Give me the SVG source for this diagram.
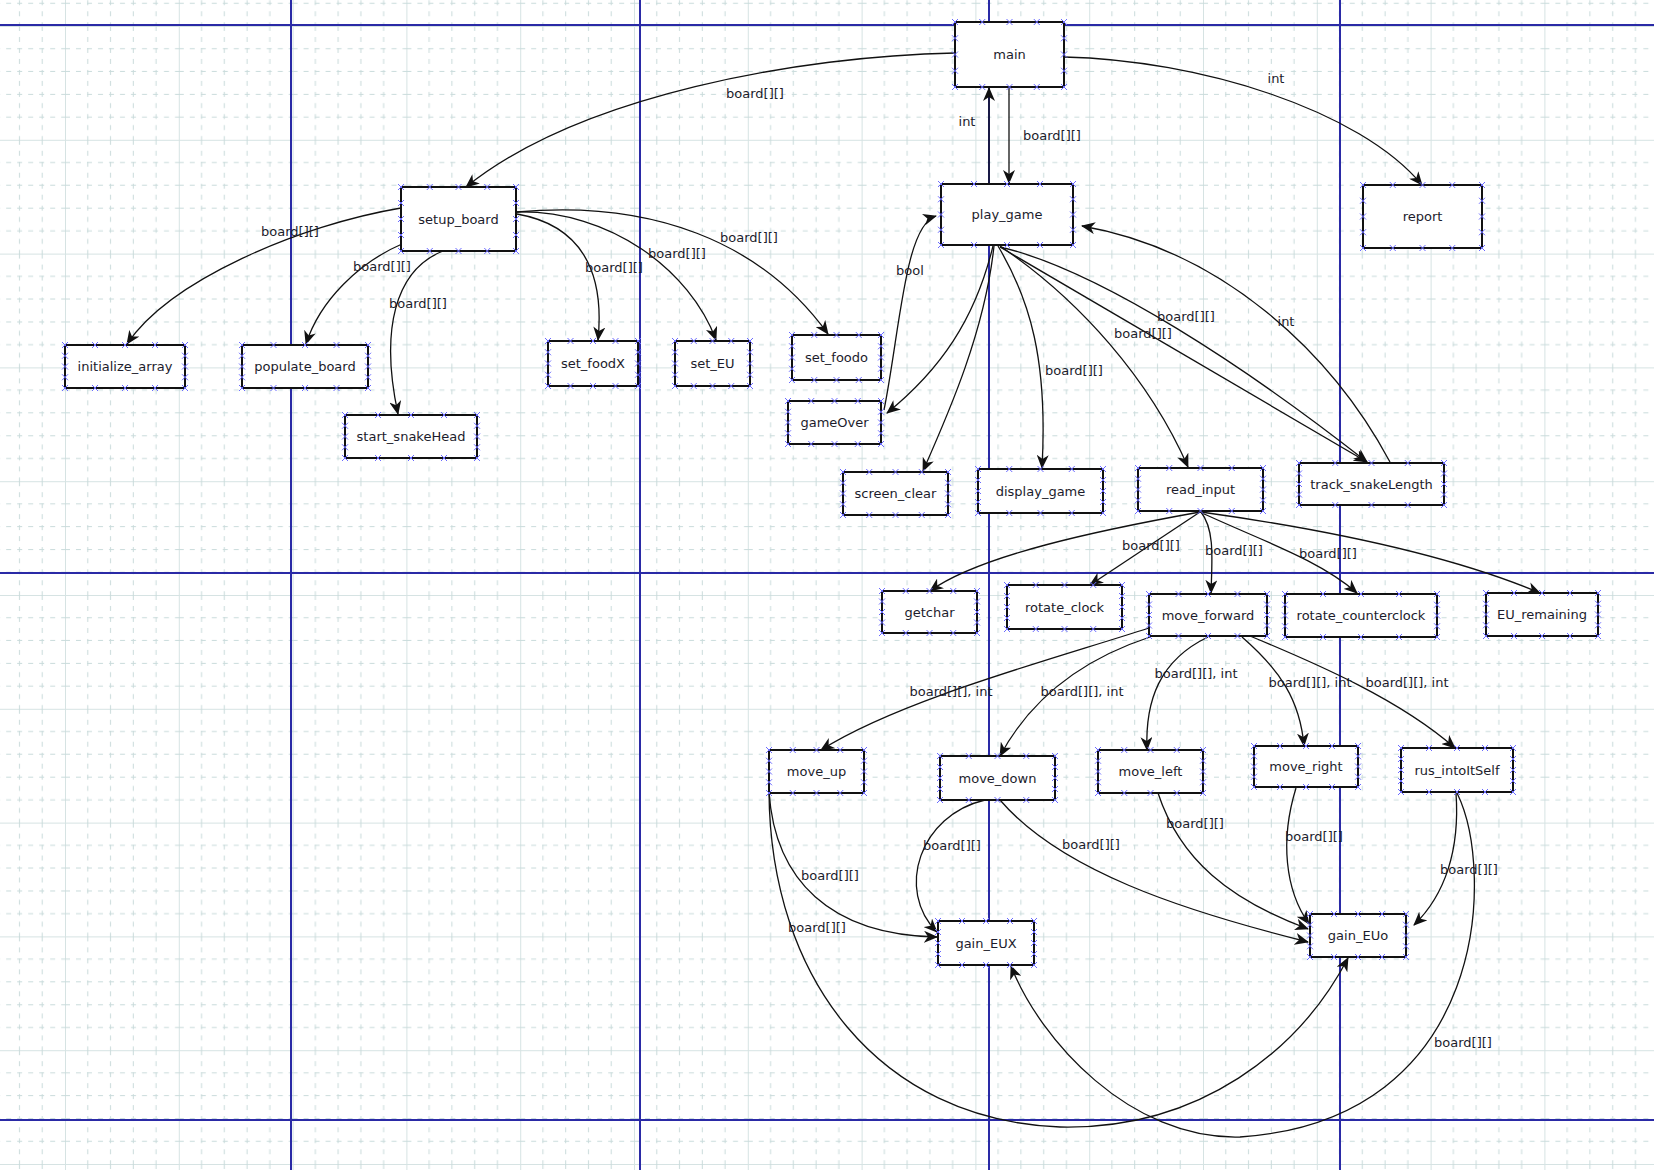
<svg xmlns="http://www.w3.org/2000/svg" width="1654" height="1170" viewBox="0 0 1654 1170">
<style>
.bx{fill:#fff;stroke:#111;stroke-width:2}
.cp{fill:none;stroke:none;marker:url(#cx)}
.t{font-family:"DejaVu Sans",sans-serif;font-size:13px;fill:#1c1c2c;text-anchor:middle}
.e{fill:none;stroke:#111;stroke-width:1.3;marker-end:url(#ah)}
.pb{stroke:#2a2aa6;stroke-width:2}
</style>
<defs>
<pattern id="grid" x="65" y="26" width="113.8" height="113.8" patternUnits="userSpaceOnUse">
<path d="M0.5,0 V113.8 M0,0.5 H113.8" stroke="#d6e3e3" stroke-width="1" fill="none"/>
<path d="M22.76,0 V113.8 M45.52,0 V113.8 M68.28,0 V113.8 M91.04,0 V113.8 M0,22.76 H113.8 M0,45.52 H113.8 M0,68.28 H113.8 M0,91.04 H113.8" stroke="#c9dbdb" stroke-width="1" stroke-dasharray="5,6" fill="none"/>
</pattern>
<marker id="cx" markerUnits="userSpaceOnUse" viewBox="-4 -4 8 8" markerWidth="8" markerHeight="8" refX="0" refY="0" orient="0">
<path d="M-3,-3 L3,3 M-3,3 L3,-3" stroke="#6b6bff" stroke-width="1" fill="none"/>
</marker>
<marker id="ah" markerUnits="userSpaceOnUse" viewBox="0 0 14 12" markerWidth="14" markerHeight="12" refX="13" refY="6" orient="auto">
<path d="M0,0 L14,6 L0,12 L4,6 Z" fill="#111"/>
</marker>
</defs>
<rect width="1654" height="1170" fill="#fff"/>
<rect width="1654" height="1170" fill="url(#grid)"/>
<g id="page-breaks">
<line class="pb" x1="0" y1="25" x2="1654" y2="25"/>
<line class="pb" x1="0" y1="573" x2="1654" y2="573"/>
<line class="pb" x1="0" y1="1120" x2="1654" y2="1120"/>
<line class="pb" x1="291" y1="0" x2="291" y2="1170"/>
<line class="pb" x1="640" y1="0" x2="640" y2="1170"/>
<line class="pb" x1="989" y1="0" x2="989" y2="1170"/>
<line class="pb" x1="1340" y1="0" x2="1340" y2="1170"/>
</g>
<g id="connectors">
<path class="e" d="M955,53 C800,56 580,95 466,187"/>
<path class="e" d="M1064,57 C1200,60 1360,110 1422,185"/>
<path class="e" d="M989,184 L989,88"/>
<path class="e" d="M1009,87 L1009,183"/>
<path class="e" d="M401,208 C300,225 170,280 127,344"/>
<path class="e" d="M402,244 C360,262 320,300 306,344"/>
<path class="e" d="M443,251 C395,270 380,330 398,414"/>
<path class="e" d="M517,214 C580,225 605,270 598,340"/>
<path class="e" d="M517,212 C610,210 690,270 716,340"/>
<path class="e" d="M517,212 C650,200 760,240 828,334"/>
<path class="e" d="M884,410 C900,330 905,225 936,216"/>
<path class="e" d="M993,246 C975,320 940,370 887,413"/>
<path class="e" d="M994,246 C985,330 950,410 923,471"/>
<path class="e" d="M998,246 C1030,300 1048,360 1042,468"/>
<path class="e" d="M1000,246 C1080,300 1150,380 1188,467"/>
<path class="e" d="M1000,247 L1367,462"/>
<path class="e" d="M1000,247 C1100,270 1250,370 1367,462"/>
<path class="e" d="M1390,462 C1330,350 1220,250 1082,226"/>
<path class="e" d="M1200,512 C1100,530 980,555 930,591"/>
<path class="e" d="M1200,512 L1090,585"/>
<path class="e" d="M1201,512 C1215,530 1212,560 1211,593"/>
<path class="e" d="M1200,512 C1260,540 1320,560 1357,593"/>
<path class="e" d="M1201,512 C1330,530 1450,555 1540,593"/>
<path class="e" d="M1149,628 C1050,660 900,700 821,750"/>
<path class="e" d="M1150,637 C1080,660 1030,700 1000,756"/>
<path class="e" d="M1208,637 C1160,660 1145,700 1147,750"/>
<path class="e" d="M1242,637 C1280,670 1300,700 1304,746"/>
<path class="e" d="M1250,636 C1320,665 1400,700 1455,748"/>
<path class="e" d="M769,792 C775,880 830,935 937,937"/>
<path class="e" d="M769,791 C770,980 880,1120 1060,1127 C1200,1130 1300,1050 1348,958"/>
<path class="e" d="M985,800 C920,815 895,890 937,932"/>
<path class="e" d="M1000,800 C1060,870 1180,910 1308,942"/>
<path class="e" d="M1158,793 C1180,860 1230,900 1308,929"/>
<path class="e" d="M1296,788 C1280,840 1285,890 1309,924"/>
<path class="e" d="M1456,793 C1460,850 1445,895 1414,925"/>
<path class="e" d="M1457,793 C1495,870 1490,1120 1240,1137 C1130,1140 1040,1040 1011,966"/>
<g class="t">
<text x="755" y="97.5">board[][]</text>
<text x="1276" y="82.5">int</text>
<text x="967" y="125.5">int</text>
<text x="1052" y="139.5">board[][]</text>
<text x="290" y="235.5">board[][]</text>
<text x="382" y="270.5">board[][]</text>
<text x="418" y="307.5">board[][]</text>
<text x="614" y="271.5">board[][]</text>
<text x="677" y="257.5">board[][]</text>
<text x="749" y="241.5">board[][]</text>
<text x="910" y="274.5">bool</text>
<text x="1074" y="374.5">board[][]</text>
<text x="1186" y="320.5">board[][]</text>
<text x="1143" y="337.5">board[][]</text>
<text x="1286" y="325.5">int</text>
<text x="1151" y="549.5">board[][]</text>
<text x="1234" y="554.5">board[][]</text>
<text x="1328" y="557.5">board[][]</text>
<text x="951" y="695.5">board[][], int</text>
<text x="1082" y="695.5">board[][], int</text>
<text x="1196" y="677.5">board[][], int</text>
<text x="1310" y="686.5">board[][], int</text>
<text x="1407" y="686.5">board[][], int</text>
<text x="830" y="879.5">board[][]</text>
<text x="817" y="931.5">board[][]</text>
<text x="952" y="849.5">board[][]</text>
<text x="1091" y="848.5">board[][]</text>
<text x="1195" y="827.5">board[][]</text>
<text x="1314" y="840.5">board[][]</text>
<text x="1469" y="873.5">board[][]</text>
<text x="1463" y="1046.5">board[][]</text>
</g>
</g>
<g id="n-main"><rect class="bx" x="955" y="22" width="109" height="65"/><path class="cp" d="M955,22 h27.25 h27.25 h27.25 h27.25 v16.25 v16.25 v16.25 v16.25 h-27.25 h-27.25 h-27.25 h-27.25 v-16.25 v-16.25 v-16.25"/><text class="t" x="1009.5" y="59">main</text></g>
<g id="n-setup_board"><rect class="bx" x="401" y="187" width="115" height="64"/><path class="cp" d="M401,187 h28.75 h28.75 h28.75 h28.75 v16 v16 v16 v16 h-28.75 h-28.75 h-28.75 h-28.75 v-16 v-16 v-16"/><text class="t" x="458.5" y="223.5">setup_board</text></g>
<g id="n-play_game"><rect class="bx" x="941" y="184" width="132" height="61"/><path class="cp" d="M941,184 h33 h33 h33 h33 v15.25 v15.25 v15.25 v15.25 h-33 h-33 h-33 h-33 v-15.25 v-15.25 v-15.25"/><text class="t" x="1007" y="219">play_game</text></g>
<g id="n-report"><rect class="bx" x="1363" y="185" width="119" height="63"/><path class="cp" d="M1363,185 h29.75 h29.75 h29.75 h29.75 v15.75 v15.75 v15.75 v15.75 h-29.75 h-29.75 h-29.75 h-29.75 v-15.75 v-15.75 v-15.75"/><text class="t" x="1422.5" y="221">report</text></g>
<g id="n-initialize_array"><rect class="bx" x="65" y="345" width="120" height="43"/><path class="cp" d="M65,345 h30 h30 h30 h30 v10.75 v10.75 v10.75 v10.75 h-30 h-30 h-30 h-30 v-10.75 v-10.75 v-10.75"/><text class="t" x="125" y="371">initialize_array</text></g>
<g id="n-populate_board"><rect class="bx" x="242" y="345" width="126" height="43"/><path class="cp" d="M242,345 h31.5 h31.5 h31.5 h31.5 v10.75 v10.75 v10.75 v10.75 h-31.5 h-31.5 h-31.5 h-31.5 v-10.75 v-10.75 v-10.75"/><text class="t" x="305" y="371">populate_board</text></g>
<g id="n-start_snakeHead"><rect class="bx" x="345" y="415" width="132" height="43"/><path class="cp" d="M345,415 h33 h33 h33 h33 v10.75 v10.75 v10.75 v10.75 h-33 h-33 h-33 h-33 v-10.75 v-10.75 v-10.75"/><text class="t" x="411" y="441">start_snakeHead</text></g>
<g id="n-set_foodX"><rect class="bx" x="548" y="341" width="90" height="45"/><path class="cp" d="M548,341 h22.5 h22.5 h22.5 h22.5 v11.25 v11.25 v11.25 v11.25 h-22.5 h-22.5 h-22.5 h-22.5 v-11.25 v-11.25 v-11.25"/><text class="t" x="593" y="368">set_foodX</text></g>
<g id="n-set_EU"><rect class="bx" x="675" y="341" width="75" height="45"/><path class="cp" d="M675,341 h18.75 h18.75 h18.75 h18.75 v11.25 v11.25 v11.25 v11.25 h-18.75 h-18.75 h-18.75 h-18.75 v-11.25 v-11.25 v-11.25"/><text class="t" x="712.5" y="368">set_EU</text></g>
<g id="n-set_foodo"><rect class="bx" x="792" y="335" width="89" height="45"/><path class="cp" d="M792,335 h22.25 h22.25 h22.25 h22.25 v11.25 v11.25 v11.25 v11.25 h-22.25 h-22.25 h-22.25 h-22.25 v-11.25 v-11.25 v-11.25"/><text class="t" x="836.5" y="362">set_foodo</text></g>
<g id="n-gameOver"><rect class="bx" x="788" y="401" width="93" height="43"/><path class="cp" d="M788,401 h23.25 h23.25 h23.25 h23.25 v10.75 v10.75 v10.75 v10.75 h-23.25 h-23.25 h-23.25 h-23.25 v-10.75 v-10.75 v-10.75"/><text class="t" x="834.5" y="427">gameOver</text></g>
<g id="n-screen_clear"><rect class="bx" x="843" y="472" width="105" height="43"/><path class="cp" d="M843,472 h26.25 h26.25 h26.25 h26.25 v10.75 v10.75 v10.75 v10.75 h-26.25 h-26.25 h-26.25 h-26.25 v-10.75 v-10.75 v-10.75"/><text class="t" x="895.5" y="498">screen_clear</text></g>
<g id="n-display_game"><rect class="bx" x="978" y="469" width="125" height="44"/><path class="cp" d="M978,469 h31.25 h31.25 h31.25 h31.25 v11 v11 v11 v11 h-31.25 h-31.25 h-31.25 h-31.25 v-11 v-11 v-11"/><text class="t" x="1040.5" y="495.5">display_game</text></g>
<g id="n-read_input"><rect class="bx" x="1138" y="468" width="125" height="43"/><path class="cp" d="M1138,468 h31.25 h31.25 h31.25 h31.25 v10.75 v10.75 v10.75 v10.75 h-31.25 h-31.25 h-31.25 h-31.25 v-10.75 v-10.75 v-10.75"/><text class="t" x="1200.5" y="494">read_input</text></g>
<g id="n-track_snakeLength"><rect class="bx" x="1299" y="463" width="145" height="42"/><path class="cp" d="M1299,463 h36.25 h36.25 h36.25 h36.25 v10.5 v10.5 v10.5 v10.5 h-36.25 h-36.25 h-36.25 h-36.25 v-10.5 v-10.5 v-10.5"/><text class="t" x="1371.5" y="488.5">track_snakeLength</text></g>
<g id="n-getchar"><rect class="bx" x="882" y="591" width="95" height="42"/><path class="cp" d="M882,591 h23.75 h23.75 h23.75 h23.75 v10.5 v10.5 v10.5 v10.5 h-23.75 h-23.75 h-23.75 h-23.75 v-10.5 v-10.5 v-10.5"/><text class="t" x="929.5" y="616.5">getchar</text></g>
<g id="n-rotate_clock"><rect class="bx" x="1007" y="585" width="115" height="44"/><path class="cp" d="M1007,585 h28.75 h28.75 h28.75 h28.75 v11 v11 v11 v11 h-28.75 h-28.75 h-28.75 h-28.75 v-11 v-11 v-11"/><text class="t" x="1064.5" y="611.5">rotate_clock</text></g>
<g id="n-move_forward"><rect class="bx" x="1149" y="594" width="118" height="42"/><path class="cp" d="M1149,594 h29.5 h29.5 h29.5 h29.5 v10.5 v10.5 v10.5 v10.5 h-29.5 h-29.5 h-29.5 h-29.5 v-10.5 v-10.5 v-10.5"/><text class="t" x="1208" y="619.5">move_forward</text></g>
<g id="n-rotate_counterclock"><rect class="bx" x="1285" y="594" width="152" height="43"/><path class="cp" d="M1285,594 h38 h38 h38 h38 v10.75 v10.75 v10.75 v10.75 h-38 h-38 h-38 h-38 v-10.75 v-10.75 v-10.75"/><text class="t" x="1361" y="620">rotate_counterclock</text></g>
<g id="n-EU_remaining"><rect class="bx" x="1486" y="593" width="112" height="43"/><path class="cp" d="M1486,593 h28 h28 h28 h28 v10.75 v10.75 v10.75 v10.75 h-28 h-28 h-28 h-28 v-10.75 v-10.75 v-10.75"/><text class="t" x="1542" y="619">EU_remaining</text></g>
<g id="n-move_up"><rect class="bx" x="769" y="750" width="95" height="43"/><path class="cp" d="M769,750 h23.75 h23.75 h23.75 h23.75 v10.75 v10.75 v10.75 v10.75 h-23.75 h-23.75 h-23.75 h-23.75 v-10.75 v-10.75 v-10.75"/><text class="t" x="816.5" y="776">move_up</text></g>
<g id="n-move_down"><rect class="bx" x="940" y="756" width="115" height="44"/><path class="cp" d="M940,756 h28.75 h28.75 h28.75 h28.75 v11 v11 v11 v11 h-28.75 h-28.75 h-28.75 h-28.75 v-11 v-11 v-11"/><text class="t" x="997.5" y="782.5">move_down</text></g>
<g id="n-move_left"><rect class="bx" x="1098" y="750" width="105" height="43"/><path class="cp" d="M1098,750 h26.25 h26.25 h26.25 h26.25 v10.75 v10.75 v10.75 v10.75 h-26.25 h-26.25 h-26.25 h-26.25 v-10.75 v-10.75 v-10.75"/><text class="t" x="1150.5" y="776">move_left</text></g>
<g id="n-move_right"><rect class="bx" x="1254" y="746" width="104" height="41"/><path class="cp" d="M1254,746 h26 h26 h26 h26 v10.25 v10.25 v10.25 v10.25 h-26 h-26 h-26 h-26 v-10.25 v-10.25 v-10.25"/><text class="t" x="1306" y="771">move_right</text></g>
<g id="n-rus_intoItSelf"><rect class="bx" x="1401" y="748" width="112" height="44"/><path class="cp" d="M1401,748 h28 h28 h28 h28 v11 v11 v11 v11 h-28 h-28 h-28 h-28 v-11 v-11 v-11"/><text class="t" x="1457" y="774.5">rus_intoItSelf</text></g>
<g id="n-gain_EUX"><rect class="bx" x="938" y="921" width="96" height="44"/><path class="cp" d="M938,921 h24 h24 h24 h24 v11 v11 v11 v11 h-24 h-24 h-24 h-24 v-11 v-11 v-11"/><text class="t" x="986" y="947.5">gain_EUX</text></g>
<g id="n-gain_EUo"><rect class="bx" x="1310" y="914" width="96" height="43"/><path class="cp" d="M1310,914 h24 h24 h24 h24 v10.75 v10.75 v10.75 v10.75 h-24 h-24 h-24 h-24 v-10.75 v-10.75 v-10.75"/><text class="t" x="1358" y="940">gain_EUo</text></g>
</svg>
